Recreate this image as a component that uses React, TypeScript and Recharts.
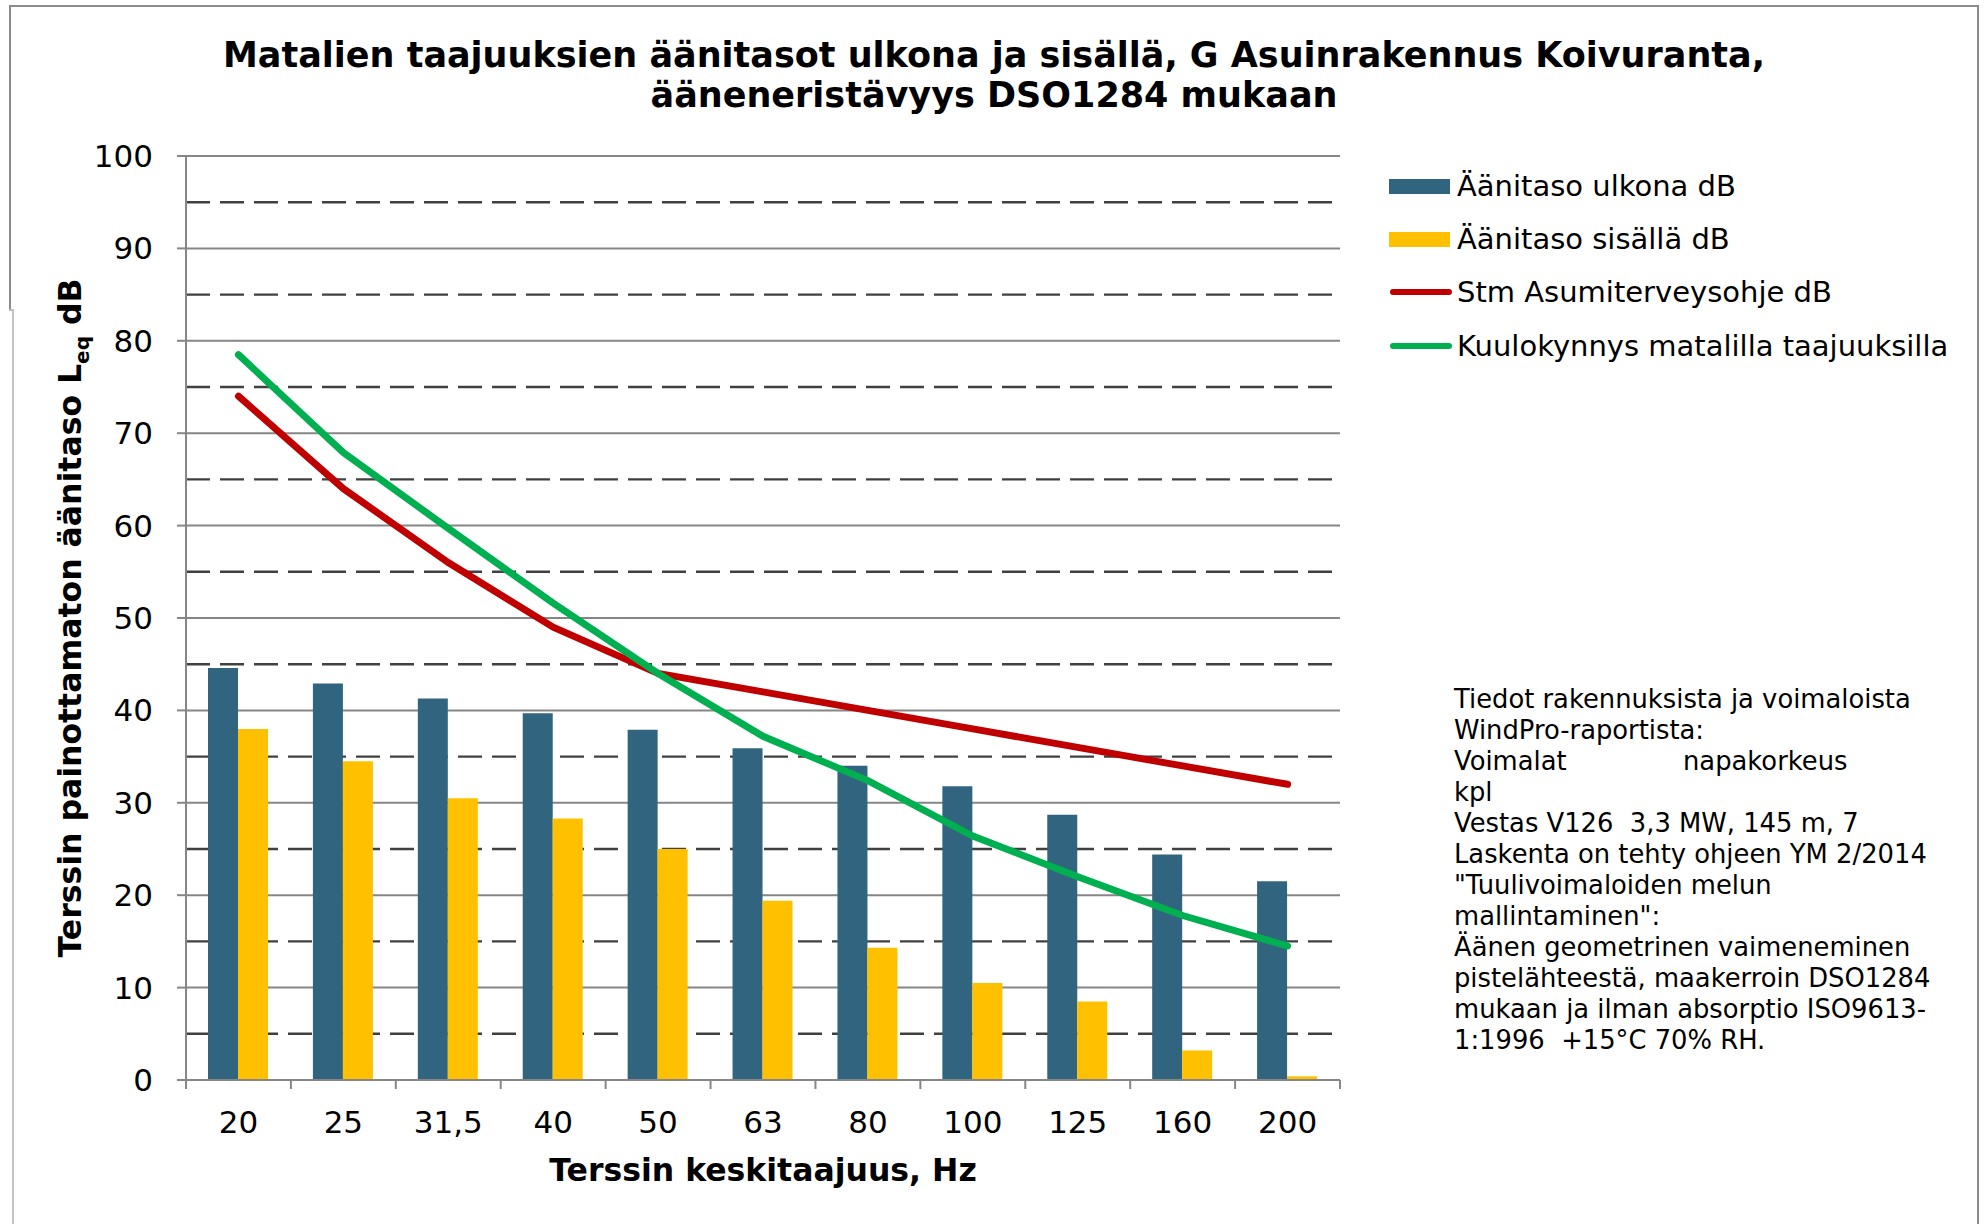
import { ComposedChart, Bar, Line, XAxis, YAxis, CartesianGrid } from 'recharts';

// Terssikaistat (Hz)
const categories = ['20', '25', '31,5', '40', '50', '63', '80', '100', '125', '160', '200'];
const outdoorLevel = [44.6, 42.9, 41.3, 39.7, 37.9, 35.9, 34.0, 31.8, 28.7, 24.4, 21.5];
const indoorLevel = [38.0, 34.5, 30.5, 28.3, 25.0, 19.4, 14.3, 10.5, 8.5, 3.2, 0.4];
const stmGuide = [74, 64, 56, 49, 44, 42, 40, 38, 36, 34, 32];
const hearingThreshold = [78.5, 67.9, 59.7, 51.6, 44.0, 37.2, 32.4, 26.4, 22.0, 17.8, 14.5];

const majorTicks = [0, 10, 20, 30, 40, 50, 60, 70, 80, 90, 100];
const minorTicks = [5, 15, 25, 35, 45, 55, 65, 75, 85, 95];

const series = [
  { key: 'outdoor', name: 'Äänitaso ulkona dB', color: '#31657f', kind: 'bar' },
  { key: 'indoor', name: 'Äänitaso sisällä dB', color: '#ffc000', kind: 'bar' },
  { key: 'stm', name: 'Stm Asumiterveysohje dB', color: '#c00000', kind: 'line' },
  { key: 'threshold', name: 'Kuulokynnys matalilla taajuuksilla', color: '#00b050', kind: 'line' },
];

const noteLines = [
  'Tiedot rakennuksista ja voimaloista',
  'WindPro-raportista:',
  'Voimalat|napakorkeus',
  'kpl',
  'Vestas V126  3,3 MW, 145 m, 7',
  'Laskenta on tehty ohjeen YM 2/2014',
  '"Tuulivoimaloiden melun',
  'mallintaminen":',
  'Äänen geometrinen vaimeneminen',
  'pistelähteestä, maakerroin DSO1284',
  'mukaan ja ilman absorptio ISO9613-',
  '1:1996  +15°C 70% RH.',
];

const data = categories.map((name, i) => ({
  name,
  outdoor: outdoorLevel[i],
  indoor: indoorLevel[i],
  stm: stmGuide[i],
  threshold: hearingThreshold[i],
}));

const W = 1986;
const H = 1224;
const PLOT = { left: 186, top: 156, right: 1340, bottom: 1080 };
const BAND = (PLOT.right - PLOT.left) / categories.length;
const FONT = '"DejaVu Sans", Verdana, sans-serif';
const AXIS = '#868686';

function XTick(props: any) {
  const { x, y, payload, index } = props;
  const left = x - BAND / 2;
  return (
    <g>
      <line x1={left} y1={y} x2={left} y2={y + 9} stroke={AXIS} strokeWidth={2} />
      {index === categories.length - 1 && (
        <line x1={x + BAND / 2} y1={y} x2={x + BAND / 2} y2={y + 9} stroke={AXIS} strokeWidth={2} />
      )}
      <text x={x} y={y + 53} textAnchor="middle" fontSize={31} fill="#000" fontFamily={FONT}>
        {payload.value}
      </text>
    </g>
  );
}

function LegendBox() {
  return (
    <div style={{ position: 'absolute', left: 1389, top: 159, fontFamily: FONT, fontSize: 29, color: '#000' }}>
      {series.map((s) => (
        <div key={s.key} style={{ display: 'flex', alignItems: 'center', height: 53.3 }}>
          <svg width={68} height={20} style={{ flex: 'none' }}>
            {s.kind === 'bar' ? (
              <rect x={0} y={3} width={61} height={15} fill={s.color} />
            ) : (
              <line x1={4} y1={10} x2={60} y2={10} stroke={s.color} strokeWidth={6} strokeLinecap="round" />
            )}
          </svg>
          <span style={{ whiteSpace: 'nowrap' }}>{s.name}</span>
        </div>
      ))}
    </div>
  );
}

export default function App() {
  return (
    <div style={{ position: 'absolute', left: 0, top: 0, width: W, height: H, background: '#fff', overflow: 'hidden' }}>
      {/* kehys */}
      <div style={{ position: 'absolute', left: 10, top: 5, width: 1968, height: 2, background: '#8c8c8c' }} />
      <div style={{ position: 'absolute', left: 1977, top: 5, width: 2, height: H, background: '#8c8c8c' }} />
      <div style={{ position: 'absolute', left: 9, top: 5, width: 2, height: 305, background: '#8c8c8c' }} />
      <div style={{ position: 'absolute', left: 9, top: 309, width: 5, height: 2, background: '#b8b8b8' }} />
      <div style={{ position: 'absolute', left: 12, top: 309, width: 2, height: H, background: '#c4c4c4' }} />

      <ComposedChart
        width={W}
        height={H}
        data={data}
        margin={{ top: PLOT.top, left: PLOT.left - 100, right: W - PLOT.right, bottom: H - PLOT.bottom - 60 }}
        barGap={0}
        style={{ position: 'absolute', left: 0, top: 0 }}
      >
        <CartesianGrid vertical={false} horizontalValues={majorTicks} stroke={AXIS} strokeWidth={2} />
        <CartesianGrid vertical={false} horizontalValues={minorTicks} stroke="#404040" strokeWidth={2.4} strokeDasharray="24 10" />
        <XAxis
          dataKey="name"
          height={60}
          interval={0}
          tickSize={0}
          tickMargin={0}
          tickLine={false}
          axisLine={{ stroke: AXIS, strokeWidth: 2 }}
          tick={<XTick />}
        />
        <YAxis
          width={100}
          domain={[0, 100]}
          ticks={majorTicks}
          interval={0}
          tickSize={9}
          tickMargin={24}
          axisLine={{ stroke: AXIS, strokeWidth: 2 }}
          tickLine={{ stroke: AXIS, strokeWidth: 2 }}
          tick={{ fill: '#000', fontSize: 31, fontFamily: FONT }}
        />
        <Bar dataKey="outdoor" name={series[0].name} fill={series[0].color} barSize={30} isAnimationActive={false} />
        <Bar dataKey="indoor" name={series[1].name} fill={series[1].color} barSize={30} isAnimationActive={false} />
        <Line
          dataKey="stm"
          name={series[2].name}
          type="linear"
          stroke={series[2].color}
          strokeWidth={7}
          strokeLinecap="round"
          dot={false}
          isAnimationActive={false}
        />
        <Line
          dataKey="threshold"
          name={series[3].name}
          type="linear"
          stroke={series[3].color}
          strokeWidth={7}
          strokeLinecap="round"
          dot={false}
          isAnimationActive={false}
        />
      </ComposedChart>

      <LegendBox />

      <svg width={W} height={H} style={{ position: 'absolute', left: 0, top: 0, pointerEvents: 'none' }} fontFamily={FONT}>
        <text x={994} y={67} textAnchor="middle" fontSize={35} fontWeight="bold" fill="#000">
          Matalien taajuuksien äänitasot ulkona ja sisällä, G Asuinrakennus Koivuranta,
        </text>
        <text x={994} y={107} textAnchor="middle" fontSize={35} fontWeight="bold" fill="#000">
          ääneneristävyys DSO1284 mukaan
        </text>
        <text x={763} y={1181} textAnchor="middle" fontSize={31.5} fontWeight="bold" fill="#000">
          Terssin keskitaajuus, Hz
        </text>
        <text
          transform={`translate(81, ${(PLOT.top + PLOT.bottom) / 2}) rotate(-90)`}
          textAnchor="middle"
          fontSize={31.5}
          fontWeight="bold"
          fill="#000"
        >
          Terssin painottamaton äänitaso L
          <tspan fontSize={20} dy={8}>eq</tspan>
          <tspan dy={-8}> dB</tspan>
        </text>
      </svg>

      <div
        style={{
          position: 'absolute',
          left: 1454,
          top: 684,
          fontFamily: FONT,
          fontSize: 25.8,
          lineHeight: '31px',
          color: '#000',
          whiteSpace: 'pre',
        }}
      >
        {noteLines.map((line) =>
          line.includes('|') ? (
            <div key={line}>
              <span style={{ display: 'inline-block', width: 229 }}>{line.split('|')[0]}</span>
              {line.split('|')[1]}
            </div>
          ) : (
            <div key={line}>{line}</div>
          )
        )}
      </div>
    </div>
  );
}
